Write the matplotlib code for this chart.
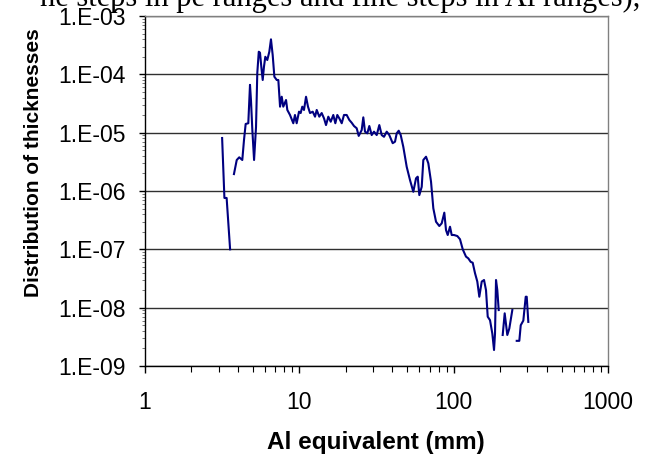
import numpy as np
import matplotlib
matplotlib.use("Agg")
import matplotlib.pyplot as plt
from matplotlib.ticker import FixedLocator, FuncFormatter, LogLocator, NullFormatter

plt.rcParams['font.family'] = ['Liberation Sans', 'DejaVu Sans']

# Al equivalent (mm) vs distribution of thicknesses
seg1_x = [3.16, 3.27, 3.38, 3.56]
seg1_y = [8.1e-6, 7.6e-7, 7.6e-7, 1.0e-7]

seg2_x = [3.77, 3.93, 4.08, 4.27, 4.38, 4.49, 4.67, 4.79, 4.86, 4.96, 5.09, 5.24,
          5.34, 5.46, 5.56, 5.67, 5.79, 5.90, 6.02, 6.20, 6.39, 6.55, 6.72, 6.89,
          7.14, 7.31, 7.50, 7.69, 7.87, 8.20, 8.36, 8.70, 9.14, 9.37, 9.61, 9.95,
          10.2, 10.45, 10.72, 11.05, 11.38, 11.73, 12.21, 12.64, 12.96, 13.47, 13.96,
          14.45, 14.89, 15.41, 15.97, 16.60, 17.11, 17.62, 18.16, 18.82, 19.47, 20.27,
          21.08, 21.84, 22.61, 23.53, 24.25, 25.36, 25.97, 26.64, 27.57, 28.41, 29.44,
          30.47, 31.72, 32.98, 34.18, 35.37, 36.83, 38.28, 40.27, 41.68, 42.75, 44.05,
          45.38, 47.18, 49.62, 52.13, 54.77, 57.02, 58.48, 59.91, 62.09, 63.59, 66.21,
          68.52, 71.34, 73.82, 76.86, 80.72, 83.66, 86.97, 89.2, 91.5, 94.7, 97.1,
          100.5, 105.6, 109.9, 114.5, 120.2, 124.4, 128.9, 132.8, 137.5, 142.3, 146.6,
          152.0, 157.3, 162.0, 166.2, 172.0, 178.0, 182.6, 185.3, 188.1, 191.8, 195.8]
seg2_y = [1.95e-6, 3.4e-6, 3.78e-6, 3.4e-6, 7.5e-6, 1.41e-5, 1.45e-5, 6.6e-5, 3.6e-5,
          1.11e-5, 3.4e-6, 1.25e-5, 1.05e-4, 2.44e-4, 2.35e-4, 1.35e-4, 8.0e-5, 1.35e-4,
          2.0e-4, 1.76e-4, 2.44e-4, 3.98e-4, 2.14e-4, 9.1e-5, 8.0e-5, 8.0e-5, 2.79e-5,
          4.13e-5, 2.79e-5, 3.63e-5, 2.45e-5, 2.01e-5, 1.45e-5, 2.01e-5, 1.45e-5, 2.29e-5,
          2.17e-5, 2.79e-5, 2.45e-5, 4.13e-5, 2.79e-5, 2.17e-5, 2.29e-5, 1.88e-5, 2.45e-5,
          1.88e-5, 2.17e-5, 1.76e-5, 1.35e-5, 1.88e-5, 1.54e-5, 2.01e-5, 1.45e-5, 2.01e-5,
          1.76e-5, 1.45e-5, 2.01e-5, 2.01e-5, 1.65e-5, 1.48e-5, 1.30e-5, 1.19e-5, 8.8e-6,
          1.11e-5, 1.83e-5, 1.04e-5, 9.75e-6, 1.30e-5, 9.1e-6, 1.04e-5, 9.1e-6, 1.35e-5,
          9.1e-6, 8.5e-6, 1.04e-5, 9.1e-6, 6.6e-6, 7.0e-6, 9.75e-6, 1.08e-5, 9.1e-6,
          5.7e-6, 2.6e-6, 1.54e-6, 9.7e-7, 1.65e-6, 1.76e-6, 8.5e-7, 1.18e-6, 3.4e-6,
          3.87e-6, 2.98e-6, 1.44e-6, 5.05e-7, 2.97e-7, 2.51e-7, 2.79e-7, 4.25e-7, 2.14e-7,
          1.76e-7, 2.44e-7, 1.76e-7, 1.76e-7, 1.69e-7, 1.49e-7, 1.0e-7, 7.5e-8, 7.0e-8,
          6.1e-8, 5.9e-8, 3.9e-8, 2.8e-8, 1.54e-8, 2.8e-8, 2.98e-8, 2.0e-8, 7.0e-9,
          6.1e-9, 3.6e-9, 1.88e-9, 3.6e-9, 2.98e-8, 2.0e-8, 9.1e-9]

seg3_x = [207.8, 214.1, 222.6, 229.4, 239.9]
seg3_y = [3.4e-9, 8.0e-9, 3.4e-9, 4.4e-9, 9.1e-9]

seg4_x = [256.2, 266.3, 272.0, 282.7, 293.0, 297.4, 304.6]
seg4_y = [2.7e-9, 2.7e-9, 5.0e-9, 6.0e-9, 1.54e-8, 1.54e-8, 5.7e-9]

x_ticks = [1, 10, 100, 1000]
y_ticks = [1e-9, 1e-8, 1e-7, 1e-6, 1e-5, 1e-4, 1e-3]

caption = "ne steps in pe ranges and fine steps in Al ranges),"

W, H = 652, 462
fig = plt.figure(figsize=(W / 100, H / 100), dpi=100)
ax = fig.add_axes([145 / W, (H - 366) / H, 463 / W, 350 / H])

line_color = "#000080"
for xs, ys in [(seg1_x, seg1_y), (seg2_x, seg2_y), (seg3_x, seg3_y), (seg4_x, seg4_y)]:
    ax.plot(xs, ys, color=line_color, lw=1.5, solid_joinstyle="round", zorder=3)

ax.set_xscale("log")
ax.set_yscale("log")
ax.set_xlim(1, 1000)
ax.set_ylim(1e-9, 1e-3)

ax.xaxis.set_major_locator(FixedLocator(x_ticks))
ax.xaxis.set_major_formatter(FuncFormatter(lambda v, p: "%d" % round(v)))
ax.xaxis.set_minor_locator(LogLocator(base=10, subs=np.arange(2, 10)))
ax.xaxis.set_minor_formatter(NullFormatter())

ax.yaxis.set_major_locator(FixedLocator(y_ticks))
ax.yaxis.set_major_formatter(FuncFormatter(lambda v, p: "1.E%03d" % round(np.log10(v))))
ax.yaxis.set_minor_locator(LogLocator(base=10, subs=np.arange(2, 10)))
ax.yaxis.set_minor_formatter(NullFormatter())

ax.grid(True, which="major", axis="y", color="#303030", lw=1.0, zorder=1)
ax.set_axisbelow(True)

for side in ["left", "bottom"]:
    ax.spines[side].set_color("black")
    ax.spines[side].set_linewidth(1.0)
for side in ["top", "right"]:
    ax.spines[side].set_color("#808080")
    ax.spines[side].set_linewidth(1.0)

ax.tick_params(axis="x", which="major", direction="out", length=5, width=1,
               labelsize=16.5, pad=13)
ax.tick_params(axis="x", which="minor", direction="out", length=4, width=0.8)
ax.tick_params(axis="y", which="major", direction="out", length=4, width=1,
               labelsize=16.5, pad=10)
ax.tick_params(axis="y", which="minor", direction="out", length=2.5, width=0.6,
               color="#606060")

fig.text(376 / W, 1 - 442 / H, "Al equivalent (mm)", ha="center", va="center",
         fontsize=17.5, fontweight="bold")
fig.text(34 / W, 1 - 163 / H, "Distribution of thicknesses", ha="center", va="center",
         rotation=90, fontsize=15, fontweight="bold")

# caption of the source page, only its lower half shows
cap = fig.text(40 / W, 1 - 6 / H, caption, ha="left", va="baseline",
               family="Liberation Serif", fontsize=15)
fig.canvas.draw()
bb = cap.get_window_extent()
cap.set_fontsize(15 * 605 / bb.width)

fig.savefig("out.png", dpi=100)
